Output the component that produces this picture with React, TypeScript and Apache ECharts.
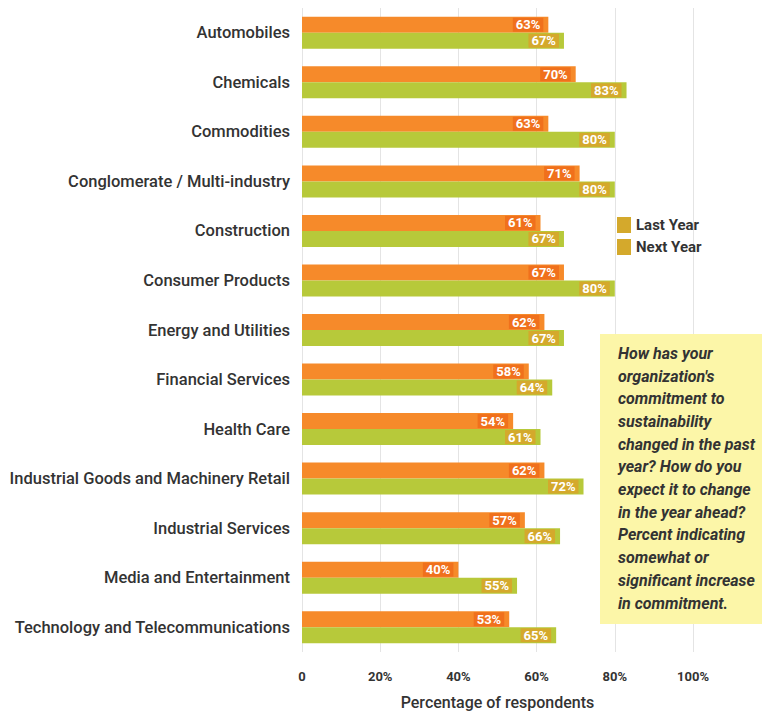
import React, { useEffect, useRef } from "react";
import * as echarts from "echarts";

const categories = [
  "Automobiles",
  "Chemicals",
  "Commodities",
  "Conglomerate / Multi-industry",
  "Construction",
  "Consumer Products",
  "Energy and Utilities",
  "Financial Services",
  "Health Care",
  "Industrial Goods and Machinery Retail",
  "Industrial Services",
  "Media and Entertainment",
  "Technology and Telecommunications",
];
const lastYear = [63, 70, 63, 71, 61, 67, 62, 58, 54, 62, 57, 40, 53];
const nextYear = [67, 83, 80, 80, 67, 80, 67, 64, 61, 72, 66, 55, 65];
const xTicks = [0, 20, 40, 60, 80, 100];
const seriesNames = ["Last Year", "Next Year"];
const noteLines = [
  "How has your",
  "organization's",
  "commitment to",
  "sustainability",
  "changed in the past",
  "year? How do you",
  "expect it to change",
  "in the year ahead?",
  "Percent indicating",
  "somewhat or",
  "significant increase",
  "in commitment.",
];

export default function App() {
  const ref = useRef<HTMLDivElement>(null);
  useEffect(() => {
    if (!ref.current) return;
    const chart = echarts.init(ref.current, undefined, { renderer: "svg" });
    const font = "Roboto";
    const labelCommon = {
      show: true,
      position: "insideRight",
      color: "#fff",
      fontFamily: font,
      fontWeight: "bold",
      fontSize: 13,
      padding: [1, 3, 0, 3],
      formatter: (p: any) => p.value + "%",
    };
    chart.setOption({
      animation: false,
      backgroundColor: "#ffffff",
      textStyle: { fontFamily: font },
      grid: {
        left: 294,
        right: 77,
        top: 0,
        bottom: 59,
        containLabel: false,
        outerBoundsMode: "none",
      },
      legend: {
        orient: "vertical",
        left: 604,
        top: 204,
        itemWidth: 14,
        itemHeight: 16,
        itemGap: 6,
        icon: "rect",
        textStyle: { fontFamily: font, fontWeight: "bold", fontSize: 15, color: "#333" },
        data: seriesNames.map((n) => ({ name: n, itemStyle: { color: "#d4a92c" } })),
      },
      xAxis: {
        type: "value",
        min: xTicks[0],
        max: xTicks[xTicks.length - 1],
        interval: 20,
        axisLine: { show: false },
        axisTick: { show: false },
        splitLine: { show: true, lineStyle: { color: "#e4e4e4", width: 1 } },
        axisLabel: {
          margin: 18,
          fontFamily: font,
          fontWeight: "bold",
          fontSize: 13,
          color: "#333",
          formatter: (v: number) => (v === 0 ? "0" : v + "%"),
        },
        name: "Percentage of respondents",
        nameLocation: "middle",
        nameGap: 42,
        nameTextStyle: { fontFamily: font, fontSize: 16, fontWeight: 500, color: "#333" },
      },
      yAxis: {
        type: "category",
        data: categories,
        inverse: true,
        axisLine: { show: false },
        axisTick: { show: false },
        axisLabel: {
          margin: 12,
          fontFamily: font,
          fontSize: 16.5,
          fontWeight: 500,
          color: "#333",
        },
      },
      series: [
        {
          name: seriesNames[0],
          type: "bar",
          data: lastYear,
          barWidth: 16,
          barGap: "0%",
          itemStyle: { color: "#f68a2a" },
          label: { ...labelCommon, backgroundColor: "#f0701c" },
        },
        {
          name: seriesNames[1],
          type: "bar",
          data: nextYear,
          barWidth: 16,
          barGap: "0%",
          itemStyle: { color: "#b7c93a" },
          label: { ...labelCommon, backgroundColor: "#d4a92c" },
        },
      ],
      graphic: [
        {
          type: "rect",
          left: 592,
          top: 326,
          z: 100,
          shape: { width: 170, height: 290 },
          style: { fill: "#fcf6a8" },
        },
        {
          type: "text",
          left: 610,
          top: 334,
          z: 101,
          style: {
            text: noteLines.join("\n"),
            font: "italic bold 16px " + font,
            lineHeight: 22.7,
            fill: "#333",
          },
        },
      ],
    });
    return () => chart.dispose();
  }, []);
  return <div ref={ref} style={{ width: 762, height: 703 }} />;
}
